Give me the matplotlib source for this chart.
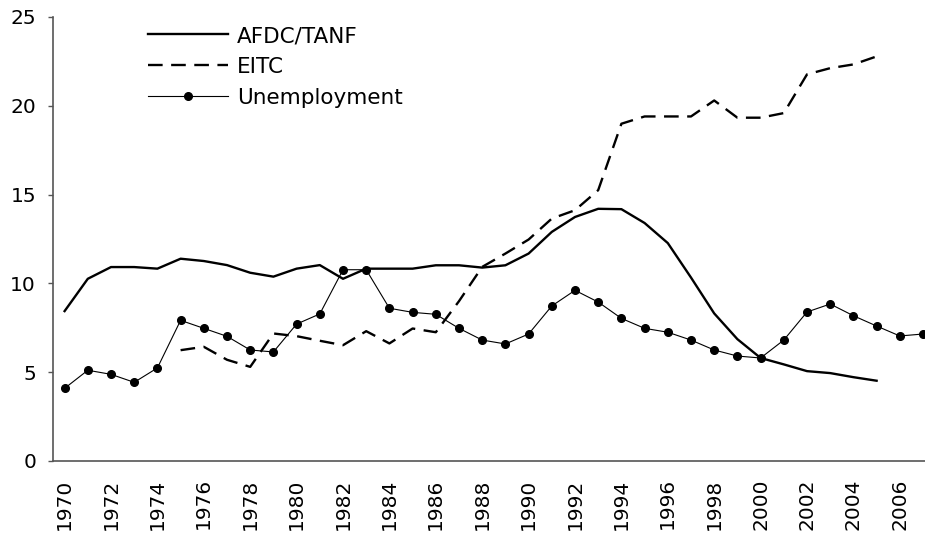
"""
AFDC/TANF and EITC against unemployment, 1970-2007.
"""
import matplotlib
matplotlib.use("Agg")
import matplotlib.pyplot as plt


YEARS = list(range(1970, 2008))

AFDC_YEARS = list(range(1970, 2006))
AFDC_TANF = [
    8.44, 10.26, 10.92, 10.92, 10.83, 11.39, 11.26, 11.03, 10.60, 10.38,
    10.83, 11.03, 10.26, 10.83, 10.83, 10.83, 11.02, 11.02, 10.89, 11.02,
    11.68, 12.90, 13.74, 14.20, 14.18, 13.40, 12.27, 10.33, 8.31, 6.86,
    5.80, 5.44, 5.06, 4.95, 4.72, 4.52]

EITC_YEARS = list(range(1975, 2006))
EITC = [
    6.24, 6.43, 5.70, 5.30, 7.18, 7.03, 6.77, 6.52, 7.31, 6.62,
    7.46, 7.25, 9.0, 10.93, 11.68, 12.47, 13.65, 14.12, 15.25, 18.99,
    19.40, 19.40, 19.40, 20.30, 19.33, 19.33, 19.59, 21.77, 22.12, 22.33,
    22.78]

UNEMPLOYMENT = [
    4.09, 5.11, 4.88, 4.43, 5.24, 7.92, 7.47, 7.02, 6.25, 6.14,
    7.71, 8.28, 10.77, 10.77, 8.60, 8.37, 8.26, 7.47, 6.81, 6.59,
    7.15, 8.73, 9.61, 8.95, 8.03, 7.47, 7.25, 6.81, 6.25, 5.91,
    5.80, 6.81, 8.39, 8.84, 8.18, 7.60, 7.04, 7.15]

TICK_YEARS = list(range(1970, 2007, 2))
Y_TICKS = [0, 5, 10, 15, 20, 25]

AXIS_GREY = "#555555"
FONT_SIZE = 14.5
LEGEND_SIZE = 15.5


plt.rcParams["font.family"] = "DejaVu Sans"

fig = plt.figure(figsize=(9.25, 5.33), dpi=100)
ax = fig.add_axes([53 / 925, 72 / 533, 872 / 925, 444 / 533])

ax.plot(AFDC_YEARS, AFDC_TANF, color="black", lw=1.7, label="AFDC/TANF")
ax.plot(EITC_YEARS, EITC, color="black", lw=1.7, dashes=(6.2, 3.6),
        label="EITC")
ax.plot(YEARS, UNEMPLOYMENT, color="black", lw=0.8, marker="o",
        markersize=5.5, label="Unemployment")

ax.set_xlim(1969.5, 1969.5 + 872 / 23.2)
ax.set_ylim(0, 25)
ax.set_xticks(TICK_YEARS)
ax.set_xticklabels([str(y) for y in TICK_YEARS], rotation=90, va="top")
ax.set_yticks(Y_TICKS)

for side in ("top", "right"):
    ax.spines[side].set_visible(False)
for side in ("left", "bottom"):
    ax.spines[side].set_color(AXIS_GREY)
    ax.spines[side].set_linewidth(1.2)

ax.tick_params(axis="y", direction="out", length=3.6, width=1,
               color=AXIS_GREY, pad=8.6, labelsize=FONT_SIZE)
ax.tick_params(axis="x", length=0, pad=12.5, labelsize=FONT_SIZE)

ax.legend(loc="upper left", bbox_to_anchor=(148 / 925, 1 - 26 / 533),
          bbox_transform=fig.transFigure, frameon=False, fontsize=LEGEND_SIZE,
          handlelength=3.7, handletextpad=0.42, labelspacing=0.5,
          borderpad=0, borderaxespad=0)

fig.savefig("out.png", dpi=100)
